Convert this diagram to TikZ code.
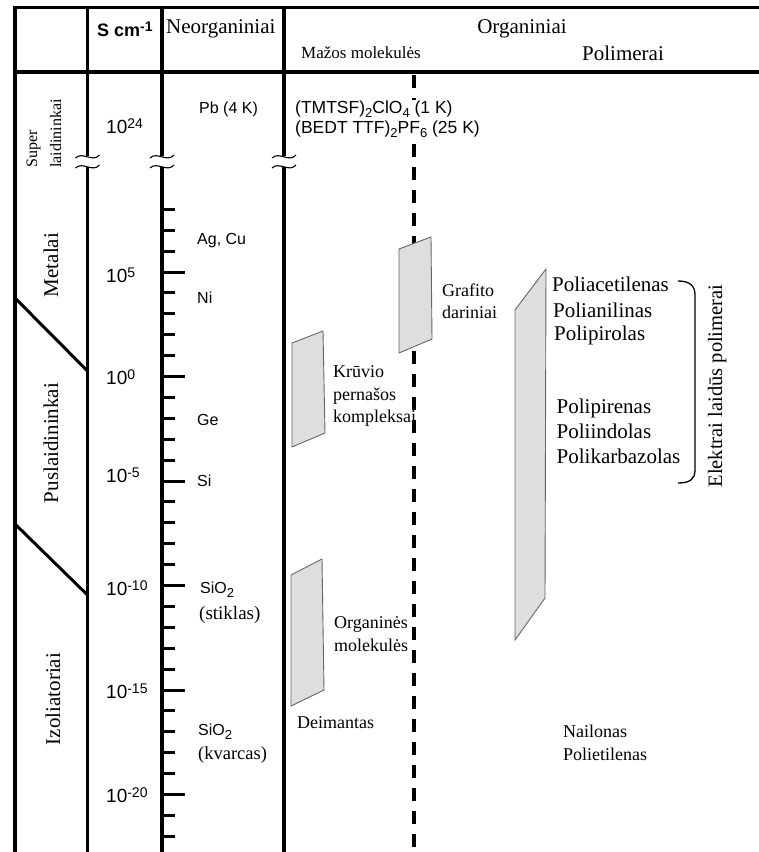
\documentclass[tikz,border=0pt]{standalone}
\usepackage{fontspec}
\setmainfont{Liberation Serif}
\newfontfamily\arialf{Liberation Sans}
\newcommand\supx[1]{\raisebox{5pt}{\fontsize{14}{14}\selectfont #1}}
\newcommand\subx[1]{\raisebox{-4pt}{\fontsize{13}{13}\selectfont #1}}
\tikzset{
  frame/.style={line width=3.2pt},
  tickline/.style={line width=3pt},
  sepline/.style={line width=3pt},
  brk/.style={line width=1.1pt},
  band/.style={fill=black!13, draw=black!60, line width=0.9pt, line join=miter},
  divider/.style={line width=4pt, dash pattern=on 12.5pt off 10.5pt},
  hdr/.style={font=\fontsize{21}{24}\selectfont, inner sep=0pt},
  sml/.style={font=\fontsize{17}{20}\selectfont, inner sep=0pt},
  lbl/.style={font=\fontsize{18}{22}\selectfont, inner sep=0pt},
  poly/.style={font=\fontsize{21}{24}\selectfont, inner sep=0pt},
  vlbl/.style={font=\fontsize{21}{24}\selectfont, inner sep=0pt, rotate=90},
  num/.style={font=\arialf\fontsize{19}{20}\selectfont, inner sep=0pt},
  elem/.style={font=\arialf\fontsize{16}{18}\selectfont, inner sep=0pt},
  orgs/.style={font=\arialf\fontsize{17.5}{20}\selectfont, inner sep=0pt},
}
\begin{document}
\begin{tikzpicture}[x=1pt,y=-1pt]
\useasboundingbox (0,0) rectangle (759,852);

% dashed divider (behind everything)
\draw[divider] (414,75) -- (414,852);

% outer frame and header line
\draw[frame, line join=miter] (15,852) -- (15,7.5) -- (759,7.5);
\draw[frame] (15,72) -- (759,72);

% column lines with break marks
\foreach \x in {87.5,162,284}{
  \draw[frame] (\x,7.5) -- (\x,156);
  \draw[frame] (\x,167) -- (\x,852);
  \draw[brk] (\x-12,158) .. controls (\x-5,151) and (\x+5,163) .. (\x+12,155);
  \draw[brk] (\x-12,168) .. controls (\x-5,161) and (\x+5,173) .. (\x+12,165);
}

% class separators
\draw[sepline] (15,298) -- (87.5,371);
\draw[sepline] (15,524) -- (87.5,595);

% ticks
\foreach \e in {8,7,...,-22}{
  \pgfmathsetmacro\yy{376.5-20.9*(\e)}
  \pgfmathtruncatemacro\mm{mod(abs(\e),5)}
  \ifnum\mm=0
    \draw[tickline] (162,\yy) -- (185,\yy);
  \else
    \draw[tickline] (162,\yy) -- (175,\yy);
  \fi
}

% header texts
\node[font=\arialf\bfseries\fontsize{18}{20}\selectfont, inner sep=0pt, anchor=base west] (scm) at (97,36) {S cm\supx{-1}};
\node[hdr, anchor=base west] (neo) at (166,33) {Neorganiniai};
\node[hdr, anchor=base] (org) at (522,33) {Organiniai};
\node[sml, anchor=base west] (maz) at (301,58) {Mažos molekulės};
\node[hdr, anchor=base] (pol) at (623,60) {Polimerai};

% vertical class labels
\node[font=\fontsize{16}{18}\selectfont, inner sep=0pt, rotate=90, anchor=base west] (sup1) at (37,168) {Super};
\node[font=\fontsize{16}{18}\selectfont, inner sep=0pt, rotate=90, anchor=base west] (sup2) at (61,168) {laidininkai};
\node[vlbl, anchor=base] (met) at (58,265) {Metalai};
\node[vlbl, anchor=base] (pus) at (58,443) {Puslaidininkai};
\node[vlbl, anchor=base] (izo) at (60,699) {Izoliatoriai};

% conductivity numbers
\node[num, anchor=base west] (n24) at (106,133) {10\supx{24}};
\node[num, anchor=base west] (n5) at (106,282) {10\supx{5}};
\node[num, anchor=base west] (n0) at (106,384) {10\supx{0}};
\node[num, anchor=base west] (nm5) at (106,482) {10\supx{-5}};
\node[num, anchor=base west] (nm10) at (106,595) {10\supx{-10}};
\node[num, anchor=base west] (nm15) at (106,698) {10\supx{-15}};
\node[num, anchor=base west] (nm20) at (106,802) {10\supx{-20}};

% inorganic
\node[elem, anchor=base west] (pb) at (199,113) {Pb (4 K)};
\node[elem, anchor=base west] (agcu) at (197,244) {Ag, Cu};
\node[elem, anchor=base west] (ni) at (197,303) {Ni};
\node[elem, anchor=base west] (ge) at (197,425.5) {Ge};
\node[elem, anchor=base west] (si) at (197,486.5) {Si};
\node[elem, anchor=base west] (sio2a) at (200,593) {SiO\subx{2}};
\node[font=\fontsize{19}{22}\selectfont, inner sep=0pt, anchor=base west] (stik) at (199,619) {(stiklas)};
\node[elem, anchor=base west] (sio2b) at (198,735) {SiO\subx{2}};
\node[font=\fontsize{18.5}{22}\selectfont, inner sep=0pt, anchor=base west] (kvar) at (198,759) {(kvarcas)};

% superconducting organics
\node[orgs, anchor=base west, fill=white] (tmtsf) at (295,113) {(TMTSF)\subx{2}ClO\subx{4} (1 K)};
\node[orgs, anchor=base west, fill=white] (bedt) at (295,133) {(BEDT TTF)\subx{2}PF\subx{6} (25 K)};

% bands
\draw[band] (399,249) -- (431,237) -- (432,339) -- (399,353) -- cycle;
\draw[band] (292,343) -- (323,331) -- (325,433) -- (292,447) -- cycle;
\draw[band] (291,575) -- (322,559) -- (324,690) -- (291,706) -- cycle;
\draw[band] (515,310) -- (546,269) -- (545,598) -- (515,640) -- cycle;

% small molecule labels
\node[lbl, anchor=base west] (gr1) at (442,296) {Grafito};
\node[lbl, anchor=base west] (gr2) at (442,318) {dariniai};
\node[lbl, anchor=base west] (kr1) at (333,377) {Krūvio};
\node[lbl, anchor=base west] (kr2) at (333,400) {pernašos};
\node[lbl, anchor=base west] (kr3) at (333,422) {kompleksai};
\node[lbl, anchor=base west] (om1) at (334,628) {Organinės};
\node[lbl, anchor=base west] (om2) at (334,651) {molekulės};
\node[lbl, anchor=base west] (dei) at (297,728) {Deimantas};

% polymers
\node[poly, anchor=base west] (p1) at (552,291) {Poliacetilenas};
\node[poly, anchor=base west] (p2) at (553,317) {Polianilinas};
\node[poly, anchor=base west] (p3) at (554,340) {Polipirolas};
\node[poly, anchor=base west] (p4) at (556.5,413) {Polipirenas};
\node[poly, anchor=base west] (p5) at (556.5,438) {Poliindolas};
\node[poly, anchor=base west] (p6) at (556.5,463) {Polikarbazolas};
\node[lbl, anchor=base west] (nai) at (563,737) {Nailonas};
\node[lbl, anchor=base west] (pet) at (563,760) {Polietilenas};

% brace and its label
\draw[line width=1.3pt] (678,281) .. controls (690,281) and (695,286) .. (695,295) -- (695,470) .. controls (695,479) and (690,483) .. (678,483);
\node[font=\fontsize{20.5}{24}\selectfont, inner sep=0pt, rotate=90, anchor=base] (elp) at (722,386) {Elektrai laidūs polimerai};

\end{tikzpicture}
\end{document}
